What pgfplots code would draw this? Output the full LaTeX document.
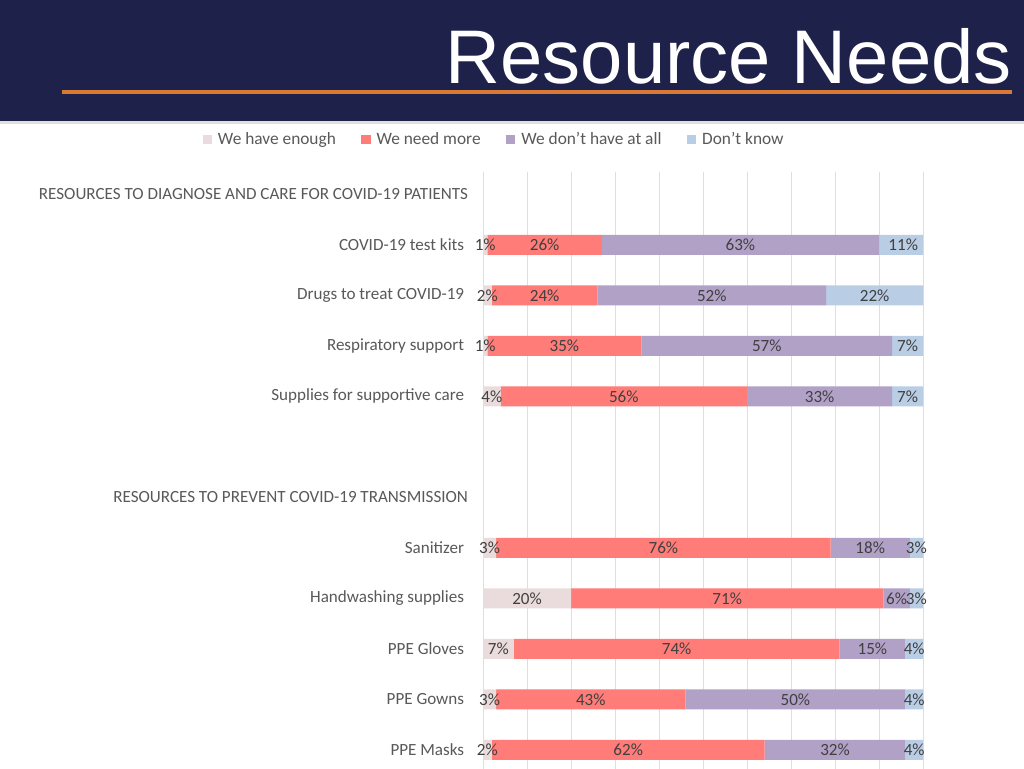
\documentclass[border=0pt]{standalone}
\usepackage{pgfplots}
\pgfplotsset{compat=1.18}
\usepackage{fontspec}
\setmainfont{Carlito}
\newfontfamily\titlefont{Liberation Sans}
\definecolor{navy}{RGB}{30,33,74}
\definecolor{orangeline}{RGB}{217,122,52}
\definecolor{cenough}{RGB}{234,220,221}
\definecolor{cmore}{RGB}{255,124,120}
\definecolor{cnone}{RGB}{178,161,199}
\definecolor{cdk}{RGB}{185,205,229}
\definecolor{gridgray}{RGB}{222,222,222}
\definecolor{labgray}{RGB}{89,89,89}
\definecolor{valgray}{RGB}{64,64,64}
\pgfplotsset{
  commonaxis/.style={
    at={(362.25pt,447.375pt)}, anchor=north west,
    scale only axis, width=330pt, height=450.75pt,
    xmin=0, xmax=100,
    ymin=-0.455, ymax=11.45, y dir=reverse,
  }
}
\begin{document}
\begin{tikzpicture}[x=0.75pt,y=0.75pt]
\clip (0,0) rectangle (1024,768);
\fill[white] (0,0) rectangle (1024,768);
% header
\fill[navy] (0,768-121) rectangle (1024,768);
\fill[black!12] (0,768-124) rectangle (1024,768-121);
\draw[orangeline, line width=2.4pt] (62,768-92) -- (1012,768-92);
\node[anchor=base east, text=white, inner sep=0pt, font=\titlefont\fontsize{57}{60}\selectfont] at (1012,768-84) {Resource Needs};
\begin{axis}[
  commonaxis,
  xbar stacked, bar width=15pt,
  ytick={0,1,2,3,4,5,6,7,8,9,10,11},
  yticklabels={RESOURCES TO DIAGNOSE AND CARE FOR COVID-19 PATIENTS\kern-3pt, COVID-19 test kits, Drugs to treat COVID-19, Respiratory support, Supplies for supportive care, {}, RESOURCES TO PREVENT COVID-19 TRANSMISSION\kern-3pt, Sanitizer, Handwashing supplies, PPE Gloves, PPE Gowns, PPE Masks},
  yticklabel style={font=\fontsize{12.8}{14}\selectfont, text=labgray, inner sep=0pt, xshift=-14pt},
  xtick={0,10,...,100}, xticklabels={},
  xmajorgrids, major grid style={draw=gridgray, line width=0.7pt},
  axis line style={draw=none}, major tick length=0pt,
  clip=true,
  legend columns=4,
  legend style={at={(0.026,1.053)}, anchor=center, draw=none, fill=none,
    font=\fontsize{13}{14}\selectfont, text=labgray,
    /tikz/every even column/.append style={column sep=17pt}},
  legend image code/.code={\fill[#1] (0pt,-3.5pt) rectangle (7pt,3.5pt); \path (0pt,0pt) (9.5pt,0pt);},
]
\addplot[fill=cenough, draw=none] coordinates {(1,1) (2,2) (1,3) (4,4) (3,7) (20,8) (7,9) (3,10) (2,11)};
\addplot[fill=cmore, draw=none] coordinates {(26,1) (24,2) (35,3) (56,4) (76,7) (71,8) (74,9) (43,10) (62,11)};
\addplot[fill=cnone, draw=none] coordinates {(63,1) (52,2) (57,3) (33,4) (18,7) (6,8) (15,9) (50,10) (32,11)};
\addplot[fill=cdk, draw=none] coordinates {(11,1) (22,2) (7,3) (7,4) (3,7) (3,8) (4,9) (4,10) (4,11)};
\legend{We have enough, We need more, We don't have at all, Don't know}
\end{axis}
\begin{axis}[
  commonaxis,
  hide axis, clip=false,
  nodes near coords={\pgfplotspointmeta},
  point meta=explicit symbolic,
  every node near coord/.append style={anchor=center, inner sep=0pt, font=\fontsize{12.8}{14}\selectfont, text=valgray},
]
\addplot[only marks, mark=none] table[meta=l] {
x y l
0.5 1 1\%
14 1 26\%
58.5 1 63\%
95.5 1 11\%
1 2 2\%
14 2 24\%
52 2 52\%
89 2 22\%
0.5 3 1\%
18.5 3 35\%
64.5 3 57\%
96.5 3 7\%
2 4 4\%
32 4 56\%
76.5 4 33\%
96.5 4 7\%
1.5 7 3\%
41 7 76\%
88 7 18\%
98.5 7 3\%
10 8 20\%
55.5 8 71\%
94 8 6\%
98.5 8 3\%
3.5 9 7\%
44 9 74\%
88.5 9 15\%
98 9 4\%
1.5 10 3\%
24.5 10 43\%
71 10 50\%
98 10 4\%
1 11 2\%
33 11 62\%
80 11 32\%
98 11 4\%
};
\end{axis}
\end{tikzpicture}
\end{document}
